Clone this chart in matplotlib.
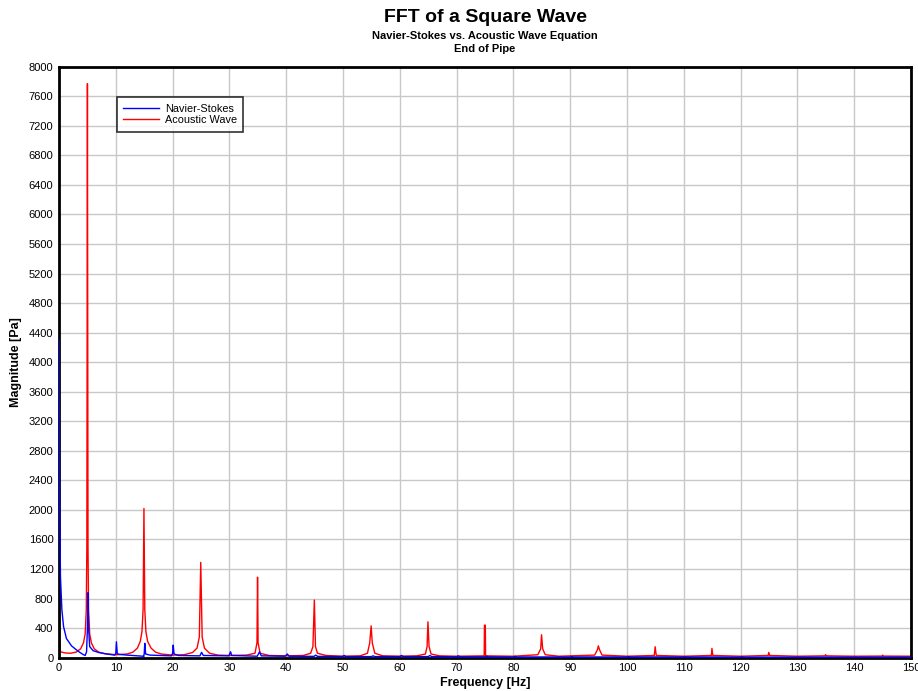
import matplotlib
matplotlib.use("Agg")
import matplotlib.pyplot as plt

plt.rcParams['font.family'] = ['Liberation Sans', 'DejaVu Sans']

# frequency / magnitude samples of the acoustic wave spectrum
acoustic_freq = [0, 0.1, 0.25, 1, 2, 3, 3.8, 4.3, 4.6, 4.8, 4.9, 5.0, 5.1, 5.2, 5.4, 5.7, 6.2, 7, 8, 10,
                 12, 13, 13.8, 14.3, 14.6, 14.8, 14.95, 15.1, 15.3, 15.6, 16.2, 17, 18, 20,
                 22, 23.5, 24.3, 24.7, 24.95, 25.2, 25.6, 26.5, 28, 30,
                 33, 34.5, 34.85, 34.95, 35.05, 35.4, 37, 40,
                 43, 44.3, 44.7, 44.95, 45.15, 45.5, 47, 50,
                 53, 54.3, 54.7, 54.95, 55.15, 55.6, 57, 60,
                 63, 64.5, 64.8, 64.95, 65.15, 65.5, 67, 70,
                 74.85, 74.9, 75.05, 75.1, 80,
                 84.3, 84.8, 84.95, 85.15, 85.6, 88,
                 94.3, 94.8, 94.95, 95.15, 95.6, 100,
                 104.8, 104.95, 105.15, 110,
                 114.85, 114.95, 115.1, 120,
                 124.85, 124.95, 125.1, 130,
                 134.85, 134.95, 135.1, 140,
                 144.9, 145.0, 145.1, 150]
acoustic_mag = [2500, 300, 80, 65, 60, 75, 120, 200, 320, 650, 1500, 7770, 1500, 650, 320, 200, 120, 75, 55, 40,
                50, 75, 130, 220, 350, 650, 2020, 650, 350, 220, 130, 75, 50, 35,
                40, 70, 130, 280, 1290, 280, 130, 60, 35, 30,
                35, 60, 200, 1090, 200, 60, 30, 25,
                30, 60, 150, 780, 150, 60, 30, 20,
                25, 60, 200, 430, 200, 60, 25, 20,
                25, 50, 150, 485, 150, 50, 25, 20,
                25, 440, 440, 25, 20,
                40, 120, 310, 120, 40, 20,
                35, 110, 160, 110, 35, 20,
                30, 148, 30, 20,
                30, 126, 30, 20,
                30, 72, 30, 20,
                25, 40, 25, 20,
                22, 35, 22, 20]

# frequency / magnitude samples of the Navier-Stokes spectrum
ns_freq = [0, 0.1, 0.25, 0.5, 0.8, 1.3, 2.2, 3, 3.6, 4.2, 4.6, 4.85, 5.0, 5.1, 5.2, 5.4, 6, 7, 8.4,
           9.8, 10.0, 10.1, 10.25, 10.5, 12, 14.8, 14.9, 15.0, 15.1, 15.25, 16,
           19.8, 20.0, 20.1, 20.25, 21, 24.8, 25.1, 25.4, 29.9, 30.2, 30.4,
           34.9, 35.3, 35.6, 39.8, 40.2, 40.5, 44.9, 45.2, 45.5, 49.9, 50.2, 50.5,
           55.0, 55.3, 55.6, 60.0, 60.3, 60.6, 65.0, 65.3, 65.6, 70.0, 70.3, 70.6,
           75.0, 75.3, 75.6, 80.0, 80.3, 80.6, 90.0, 90.3, 90.6, 100.0, 100.3, 100.6,
           110.0, 110.3, 110.6, 120.0, 120.3, 120.6, 130, 140, 150]
ns_mag = [4300, 2200, 1100, 650, 420, 260, 160, 110, 75, 45, 30, 80, 400, 880, 400, 150, 95, 70, 50,
          35, 60, 215, 60, 45, 35, 20, 5, 60, 195, 50, 35,
          25, 60, 170, 50, 30, 25, 72, 30, 25, 80, 30,
          20, 80, 25, 20, 50, 20, 18, 35, 18, 15, 30, 15,
          15, 25, 15, 15, 30, 15, 15, 30, 15, 12, 25, 12,
          12, 20, 12, 10, 18, 10, 10, 15, 10, 10, 15, 10,
          10, 12, 10, 8, 12, 8, 8, 8, 8]

x_ticks = list(range(0, 151, 10))
y_ticks = list(range(0, 8001, 400))

fig = plt.figure(figsize=(9.18, 6.91), dpi=100)
ax = fig.add_axes([0.0643, 0.0482, 0.9281, 0.8553])

ax.plot(acoustic_freq, acoustic_mag, color='#ff0000', lw=1.0, label='Acoustic Wave', zorder=2)
ax.plot(ns_freq, ns_mag, color='#0000ff', lw=1.0, label='Navier-Stokes', zorder=3)

ax.set_xlim(0, 150)
ax.set_ylim(0, 8000)
ax.set_xticks(x_ticks)
ax.set_yticks(y_ticks)
ax.tick_params(length=0, labelsize=8, pad=4)
ax.grid(True, color='#c8c8c8', lw=1.0)
ax.set_axisbelow(True)
for sp in ax.spines.values():
    sp.set_linewidth(2)

ax.set_xlabel('Frequency [Hz]', fontsize=9, fontweight='bold', labelpad=3)
ax.set_ylabel('Magnitude [Pa]', fontsize=9, fontweight='bold', labelpad=5)

handles, labels = ax.get_legend_handles_labels()
leg = ax.legend(handles[::-1], labels[::-1], loc='upper left', bbox_to_anchor=(0.068, 0.948),
                fontsize=7.8, frameon=True, fancybox=False, borderpad=0.6,
                handlelength=3.3, handletextpad=0.5, labelspacing=0.12, borderaxespad=0)
leg.get_frame().set_edgecolor('black')
leg.get_frame().set_linewidth(1.2)

cx = 0.0643 + 0.9281 / 2
fig.text(cx, 1 - 22 / 691, 'FFT of a Square Wave', ha='center', va='baseline',
         fontsize=14, fontweight='bold')
fig.text(cx, 1 - 39 / 691, 'Navier-Stokes vs. Acoustic Wave Equation', ha='center', va='baseline',
         fontsize=8, fontweight='bold')
fig.text(cx, 1 - 52 / 691, 'End of Pipe', ha='center', va='baseline', fontsize=8, fontweight='bold')

fig.savefig('out.png', dpi=100)
